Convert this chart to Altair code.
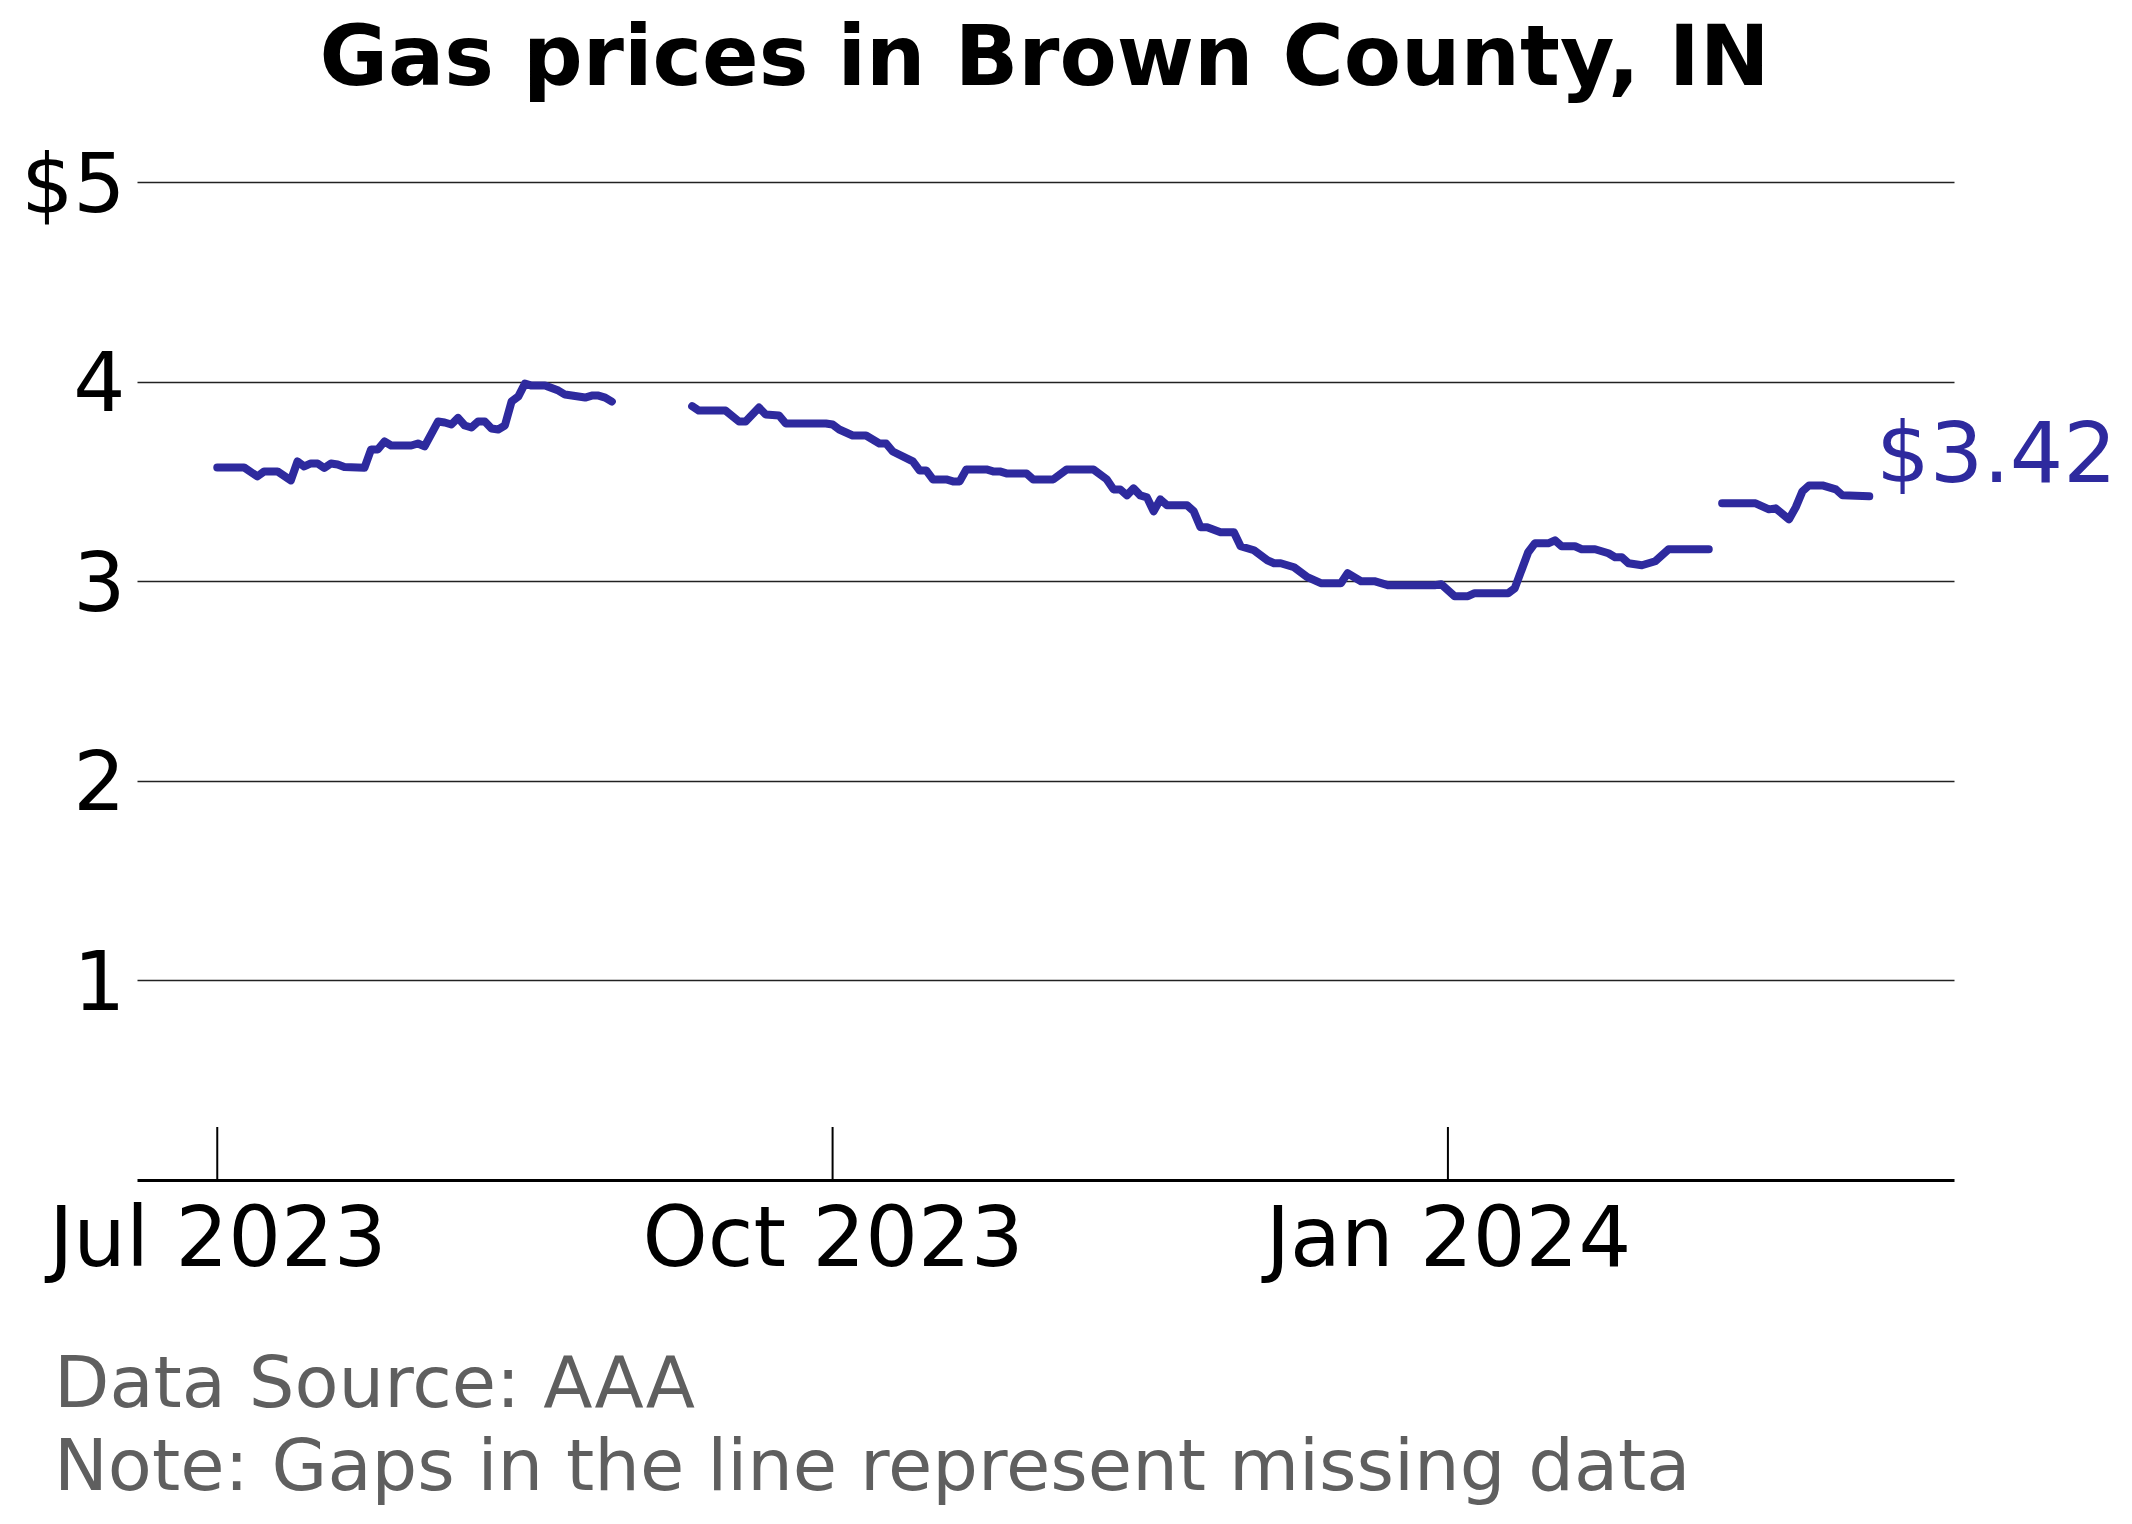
import altair as alt
import pandas as pd

# ---------------- data ----------------
seg1_dates = ["2023-07-01", "2023-07-05", "2023-07-07", "2023-07-08", "2023-07-10", "2023-07-12",
              "2023-07-13", "2023-07-14", "2023-07-15", "2023-07-16", "2023-07-17", "2023-07-18",
              "2023-07-19", "2023-07-20", "2023-07-23", "2023-07-24", "2023-07-25", "2023-07-26",
              "2023-07-27", "2023-07-30", "2023-07-31", "2023-08-01", "2023-08-03", "2023-08-04",
              "2023-08-05", "2023-08-06", "2023-08-07", "2023-08-08", "2023-08-09", "2023-08-10",
              "2023-08-11", "2023-08-12", "2023-08-13", "2023-08-14", "2023-08-15", "2023-08-16",
              "2023-08-17", "2023-08-19", "2023-08-21", "2023-08-22", "2023-08-23", "2023-08-25",
              "2023-08-26", "2023-08-27", "2023-08-28", "2023-08-29"]
seg1_prices = [3.57, 3.57, 3.525, 3.55, 3.55, 3.505,
               3.60, 3.575, 3.59, 3.59, 3.567, 3.59,
               3.585, 3.572, 3.568, 3.66, 3.66, 3.70,
               3.68, 3.68, 3.69, 3.675, 3.80, 3.795,
               3.785, 3.818, 3.78, 3.77, 3.80, 3.80,
               3.765, 3.76, 3.78, 3.90, 3.925, 3.99,
               3.98, 3.98, 3.955, 3.935, 3.93, 3.92,
               3.93, 3.93, 3.92, 3.90]

seg2_dates = ["2023-09-10", "2023-09-11", "2023-09-15", "2023-09-17", "2023-09-18", "2023-09-20",
              "2023-09-21", "2023-09-23", "2023-09-24", "2023-09-30", "2023-10-01", "2023-10-02",
              "2023-10-04", "2023-10-06", "2023-10-08", "2023-10-09", "2023-10-10", "2023-10-13",
              "2023-10-14", "2023-10-15", "2023-10-16", "2023-10-18", "2023-10-19", "2023-10-20",
              "2023-10-21", "2023-10-24", "2023-10-25", "2023-10-26", "2023-10-27", "2023-10-30",
              "2023-10-31", "2023-11-03", "2023-11-05", "2023-11-09", "2023-11-11", "2023-11-12",
              "2023-11-13", "2023-11-14", "2023-11-15", "2023-11-16", "2023-11-17", "2023-11-18",
              "2023-11-19", "2023-11-20", "2023-11-23", "2023-11-24", "2023-11-25", "2023-11-26",
              "2023-11-28", "2023-11-30", "2023-12-01", "2023-12-03", "2023-12-05", "2023-12-06",
              "2023-12-07", "2023-12-09", "2023-12-11", "2023-12-12", "2023-12-13", "2023-12-16",
              "2023-12-17", "2023-12-19", "2023-12-21", "2023-12-23", "2023-12-30", "2023-12-31",
              "2024-01-02", "2024-01-04", "2024-01-05", "2024-01-10", "2024-01-11", "2024-01-13",
              "2024-01-14", "2024-01-16", "2024-01-17", "2024-01-18", "2024-01-20", "2024-01-21",
              "2024-01-23", "2024-01-25", "2024-01-26", "2024-01-27", "2024-01-28", "2024-01-30",
              "2024-02-01", "2024-02-03", "2024-02-09"]
seg2_prices = [3.877, 3.855, 3.855, 3.80, 3.80, 3.87,
               3.835, 3.83, 3.79, 3.79, 3.785, 3.76,
               3.73, 3.73, 3.69, 3.69, 3.65, 3.60,
               3.555, 3.555, 3.51, 3.51, 3.50, 3.50,
               3.56, 3.56, 3.55, 3.55, 3.54, 3.54,
               3.51, 3.51, 3.56, 3.56, 3.51, 3.46,
               3.46, 3.43, 3.465, 3.43, 3.42, 3.35,
               3.41, 3.38, 3.38, 3.35, 3.27, 3.27,
               3.245, 3.245, 3.175, 3.155, 3.105, 3.09,
               3.09, 3.07, 3.02, 3.005, 2.99, 2.99,
               3.04, 3.00, 3.00, 2.98, 2.98, 2.985,
               2.925, 2.925, 2.94, 2.94, 2.965, 3.145,
               3.19, 3.19, 3.205, 3.175, 3.175, 3.16,
               3.16, 3.14, 3.12, 3.12, 3.09, 3.08,
               3.10, 3.16, 3.16]

seg3_dates = ["2024-02-11", "2024-02-16", "2024-02-18", "2024-02-19", "2024-02-21", "2024-02-22",
              "2024-02-23", "2024-02-24", "2024-02-26", "2024-02-28", "2024-02-29", "2024-03-04"]
seg3_prices = [3.39, 3.39, 3.36, 3.365, 3.31, 3.37,
               3.45, 3.48, 3.48, 3.46, 3.43, 3.425]

tick_dates = ["2023-07-01", "2023-10-01", "2024-01-01"]
y_ticks = [1, 2, 3, 4, 5]
last_label = "$3.42"
title_text = "Gas prices in Brown County, IN"
footer_lines = ["Data Source: AAA", "Note: Gaps in the line represent missing data"]

# ---------------- tables ----------------
rows = []
for seg, (ds, ps) in enumerate([(seg1_dates, seg1_prices), (seg2_dates, seg2_prices),
                                (seg3_dates, seg3_prices)]):
    for d, p in zip(ds, ps):
        rows.append({"date": d, "price": p, "segment": seg})
df = pd.DataFrame(rows)
ticks_df = pd.DataFrame({"date": tick_dates})
last_df = pd.DataFrame({"date": [seg3_dates[-1]], "price": [seg3_prices[-1]], "label": [last_label]})
foot1_df = pd.DataFrame({"t": [footer_lines[0]]})
foot2_df = pd.DataFrame({"t": [footer_lines[1]]})

W, H = 1817, 998
LINE_COLOR = "#2e2a9e"
FONT = "DejaVu Sans"

xscale = alt.Scale(type="utc",
                   domain=[alt.DateTime(year=2023, month=6, date=19, utc=True),
                           alt.DateTime(year=2024, month=3, date=16, hours=16, utc=True)])
yscale = alt.Scale(domain=[0, 5], nice=False, zero=True)

xaxis = alt.Axis(values=[alt.DateTime(year=2023, month=7, date=1, utc=True),
                         alt.DateTime(year=2023, month=10, date=1, utc=True),
                         alt.DateTime(year=2024, month=1, date=1, utc=True)],
                 labelExpr="utcFormat(datum.value, '%b %Y')",
                 title=None, grid=False, ticks=False, tickSize=0,
                 domain=True, domainColor="#000000", domainWidth=3,
                 labelFontSize=83, labelColor="#000000", labelPadding=19,
                 labelLimit=0, labelFont=FONT)
yaxis = alt.Axis(values=y_ticks,
                 labelExpr="datum.value == 5 ? '$5' : format(datum.value, 'd')",
                 title=None, grid=True, gridColor="#222222", gridWidth=1.3,
                 ticks=False, tickSize=0, domain=False,
                 labelFontSize=82, labelColor="#000000", labelPadding=12,
                 labelBaseline="middle", labelOffset=4, labelLimit=0, labelFont=FONT)

line = alt.Chart(df).mark_line(color=LINE_COLOR, strokeWidth=8,
                               strokeCap="round", strokeJoin="round").encode(
    x=alt.X("date:T", scale=xscale, axis=xaxis),
    y=alt.Y("price:Q", scale=yscale, axis=yaxis),
    detail="segment:N",
)

ticks = alt.Chart(ticks_df).mark_rule(color="#000000", strokeWidth=2).encode(
    x=alt.X("date:T"),
    y=alt.value(H),
    y2=alt.value(H - 53),
)

label = alt.Chart(last_df).mark_text(align="left", baseline="alphabetic", dx=7, dy=-14,
                                     fontSize=84, color=LINE_COLOR, font=FONT).encode(
    x=alt.X("date:T"),
    y=alt.Y("price:Q"),
    text="label:N",
)

foot1 = alt.Chart(foot1_df).mark_text(align="left", baseline="alphabetic", fontSize=72,
                                      color="#5f5f5f", font=FONT).encode(
    x=alt.value(-83), y=alt.value(1225), text="t:N")
foot2 = alt.Chart(foot2_df).mark_text(align="left", baseline="alphabetic", fontSize=72,
                                      color="#5f5f5f", font=FONT).encode(
    x=alt.value(-83), y=alt.value(1308), text="t:N")

chart = alt.layer(line, ticks, label, foot1, foot2).properties(
    width=W, height=H,
    title=alt.TitleParams(title_text, fontSize=83.5, fontWeight="bold", font=FONT,
                          anchor="middle", color="#000000", offset=-23, dx=-1,
                          baseline="alphabetic"),
    autosize=alt.AutoSizeParams(type="none"),
    padding={"left": 129, "top": 174, "right": 170, "bottom": 336},
).configure_view(stroke=None)

chart.save("out.html", embed_options={"renderer": "svg", "actions": False})
